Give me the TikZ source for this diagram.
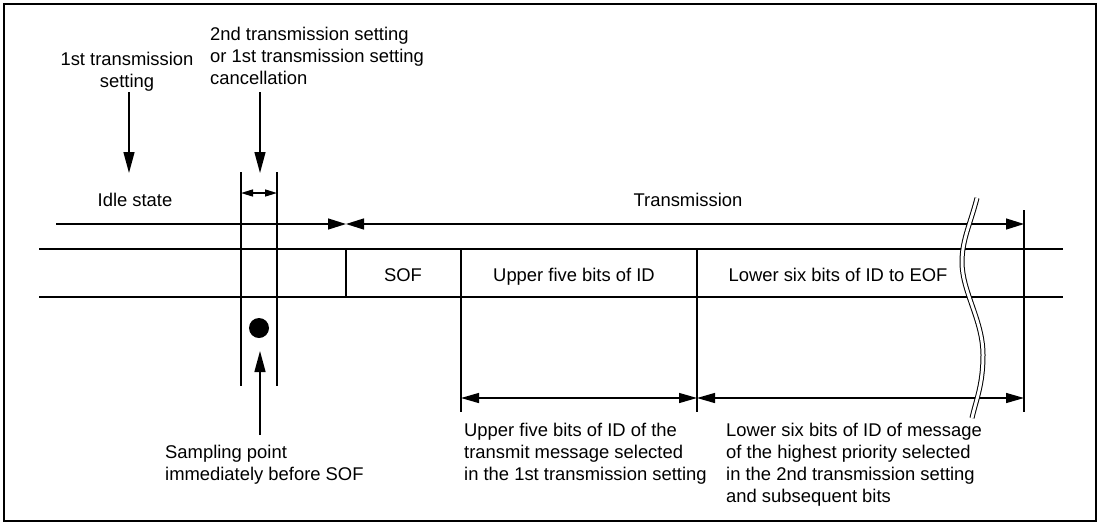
\documentclass[tikz,border=0pt]{standalone}
\usepackage{fontspec}
\setmainfont{Liberation Sans}
\usetikzlibrary{arrows.meta}
\begin{document}
\begin{tikzpicture}[x=1pt,y=-1pt,
  ln/.style={line width=1.35pt},
  bigarr/.style={ln,-{Triangle[length=18pt,width=11pt]}},
  bothbig/.style={ln,{Triangle[length=18pt,width=10pt]}-{Triangle[length=18pt,width=10pt]}},
  smallboth/.style={ln,{Triangle[length=12pt,width=7pt]}-{Triangle[length=12pt,width=7pt]}},
  downarr/.style={ln,-{Triangle[length=21pt,width=11pt]}},
  txt/.style={inner sep=0pt,font=\fontsize{18.4}{22}\selectfont},
  frame/.style={line width=2.2pt}]
\useasboundingbox (0,0) rectangle (1100,523);
\draw[frame] (4,4) rectangle (1096,521);

% texts
\node[txt,anchor=north,align=center] (lab1) at (127,52) {1st transmission\\setting};
\node[txt,anchor=north west,align=left] (lab2) at (210,27) {2nd transmission setting\\or 1st transmission setting\\cancellation};
\node[txt,anchor=base] (idle) at (135,206) {Idle state};
\node[txt,anchor=base] (trans) at (688,206) {Transmission};
\node[txt,anchor=base] (sof) at (403,281.5) {SOF};
\node[txt,anchor=base] (up5) at (574,281.5) {Upper five bits of ID};
\node[txt,anchor=base] (low6) at (838,281.5) {Lower six bits of ID to EOF};
\node[txt,anchor=north west,align=left] (samp) at (165,445) {Sampling point\\immediately before SOF};
\node[txt,anchor=north west,align=left] (bl) at (464,423) {Upper five bits of ID of the\\transmit message selected\\in the 1st transmission setting};
\node[txt,anchor=north west,align=left] (br) at (726,423) {Lower six bits of ID of message\\of the highest priority selected\\in the 2nd transmission setting\\and subsequent bits};

% coordinates
\coordinate (a1s) at (129,92);  \coordinate (a1e) at (129,173);
\coordinate (a2s) at (260,92);  \coordinate (a2e) at (260,173);
\coordinate (v1t) at (241,172); \coordinate (v1b) at (241,386);
\coordinate (v2t) at (277,172); \coordinate (v2b) at (277,386);
\coordinate (sa) at (241,193);  \coordinate (sb) at (277,193);
\coordinate (idl) at (56,224);  \coordinate (mid) at (346,224);
\coordinate (tre) at (1024,224);
\coordinate (h1l) at (39,249);  \coordinate (h1r) at (1063,249);
\coordinate (h2l) at (39,297);  \coordinate (h2r) at (1063,297);
\coordinate (sofl) at (346,249); \coordinate (sofb) at (346,297);
\coordinate (c1t) at (461,249); \coordinate (c1b) at (461,412);
\coordinate (c2t) at (697,249); \coordinate (c2b) at (697,412);
\coordinate (c3t) at (1024,210); \coordinate (c3b) at (1024,412);
\coordinate (b1) at (461,398); \coordinate (b2) at (697,398); \coordinate (b3) at (1024,398);
\coordinate (ups) at (260,435); \coordinate (upe) at (260,351);

% down arrows
\draw[downarr] (a1s) -- (a1e);
\draw[downarr] (a2s) -- (a2e);

% vertical lines round sampling window
\draw[ln] (v1t) -- (v1b);
\draw[ln] (v2t) -- (v2b);
\draw[smallboth] (sa) -- (sb);

% state arrows
\draw[bigarr] (idl) -- (mid);
\draw[ln,{Triangle[length=18pt,width=11pt]}-{Triangle[length=18pt,width=11pt]}] (mid) -- (tre);

% frame rows
\draw[ln] (h1l) -- (h1r);
\draw[ln] (h2l) -- (h2r);
\draw[ln] (sofl) -- (sofb);
\draw[ln] (c1t) -- (c1b);
\draw[ln] (c2t) -- (c2b);
\draw[ln] (c3t) -- (c3b);

% bottom dimension arrows
\draw[bothbig] (b1) -- (b2);
\draw[bothbig] (b2) -- (b3);

% sampling point
\node[circle,fill=black,minimum size=20pt,inner sep=0pt] (dot) at (259,328) {};
\draw[downarr] (ups) -- (upe);

% break mark
\draw[line width=1pt,double=white,double distance=3pt]
  (977,198) .. controls (970,225) and (962,240) .. (962,262)
  .. controls (962,292) and (983,320) .. (983,355)
  .. controls (983,385) and (976,400) .. (972,418);
\end{tikzpicture}
\end{document}
